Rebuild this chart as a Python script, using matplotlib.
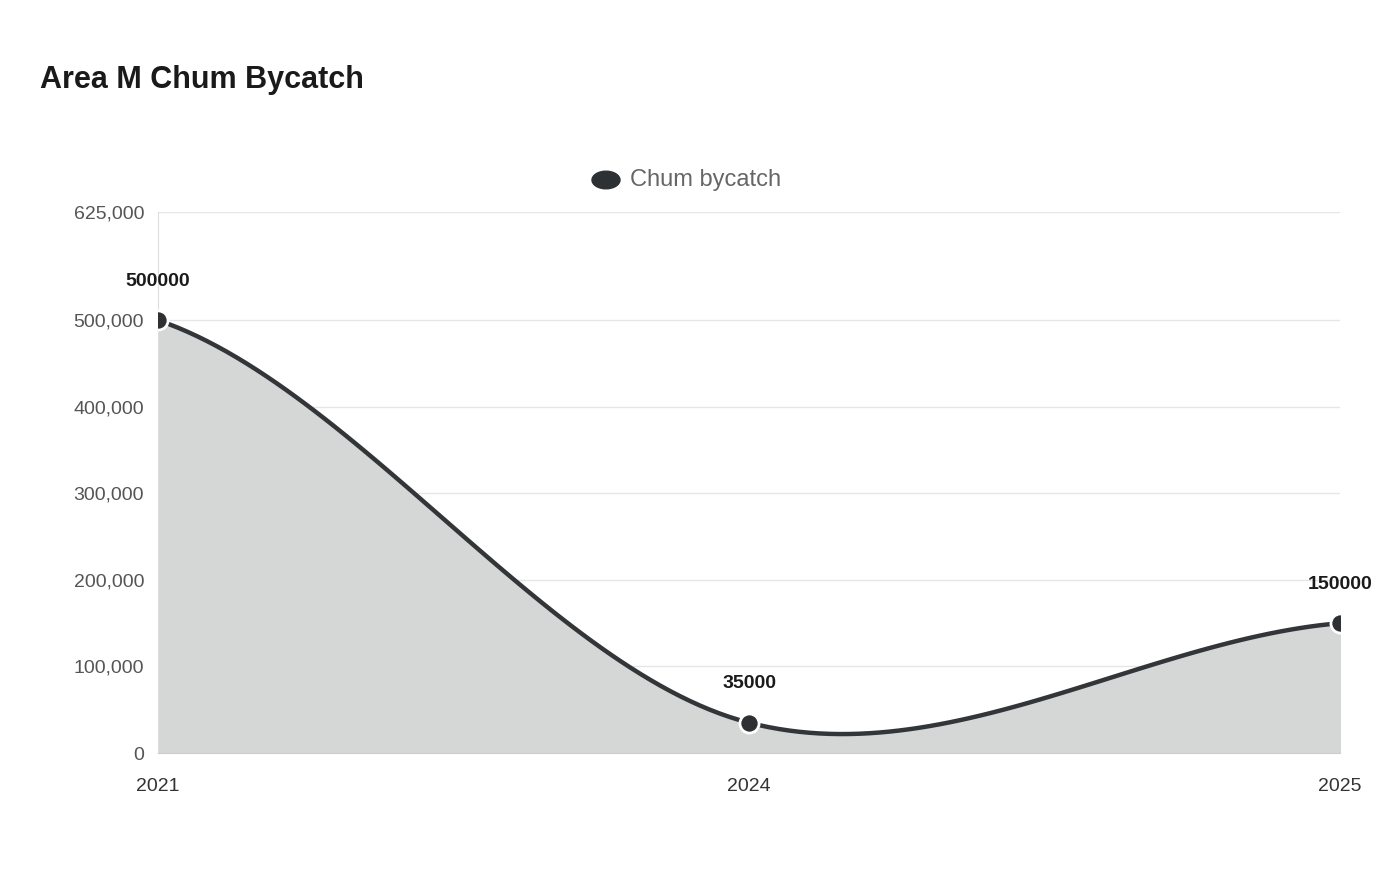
import numpy as np
import matplotlib.pyplot as plt

years = ["2021", "2024", "2025"]
bycatch = [500000, 35000, 150000]
yticks = [0, 100000, 200000, 300000, 400000, 500000, 625000]


def catmull_rom(y, steps=60):
    """Smooth curve through points at x = 0..n-1 (uniform Catmull-Rom)."""
    p = [y[0]] + list(y) + [y[-1]]
    xs, ys = [], []
    for i in range(len(y) - 1):
        p0, p1, p2, p3 = p[i], p[i + 1], p[i + 2], p[i + 3]
        t = np.linspace(0, 1, steps, endpoint=(i == len(y) - 2))
        yy = 0.5 * ((2 * p1) + (-p0 + p2) * t
                    + (2 * p0 - 5 * p1 + 4 * p2 - p3) * t ** 2
                    + (-p0 + 3 * p1 - 3 * p2 + p3) * t ** 3)
        xs.extend(i + t)
        ys.extend(yy)
    return np.array(xs), np.array(ys)


plt.rcParams['font.family'] = ['Liberation Sans', 'DejaVu Sans']
fig = plt.figure(figsize=(14, 8.8), dpi=100)
ax = fig.add_axes([0.1129, 0.1443, 0.8443, 0.6148])

x = np.arange(len(years))
cx, cy = catmull_rom(bycatch)
ax.fill_between(cx, 0, cy, color="#d5d6d6", zorder=1)
ax.plot(cx, cy, color="#333638", lw=3.2, zorder=3, solid_capstyle="round")
ax.scatter(x, bycatch, s=190, color="#2e3134", edgecolor="white", linewidth=2, zorder=4)
for xi, v in zip(x, bycatch):
    ax.annotate(str(v), (xi, v), xytext=(0, 22), textcoords="offset points",
                ha="center", va="bottom", fontsize=14, fontweight="bold", color="#1a1a1a")

ax.set_xlim(0, len(years) - 1)
ax.set_ylim(0, 625000)
ax.set_xticks(x)
ax.set_xticklabels(years)
ax.set_yticks(yticks)
ax.set_yticklabels([f"{v:,}" for v in yticks])
ax.tick_params(axis="both", length=0, labelsize=14, labelcolor="#555555")
ax.tick_params(axis="x", pad=18, labelcolor="#333333")
ax.tick_params(axis="y", pad=10)
ax.grid(axis="y", color="#e6e6e6", lw=1, zorder=0)
ax.set_axisbelow(True)
for s in ["top", "right"]:
    ax.spines[s].set_visible(False)
ax.spines["left"].set_color("#dddddd")
ax.spines["bottom"].set_color("#cccccc")

fig.text(40 / 1400, 1 - 80 / 880, "Area M Chum Bycatch", fontsize=22,
         fontweight="bold", color="#1a1a1a", va="center")
fig.patches.append(plt.Circle((606 / 1400, 1 - 180 / 880), 14 / 1400,
                              transform=fig.transFigure, color="#2e3134",
                              figure=fig))
fig.text(630 / 1400, 1 - 180 / 880, "Chum bycatch", fontsize=17,
         color="#666666", va="center")

fig.savefig("out.png")
